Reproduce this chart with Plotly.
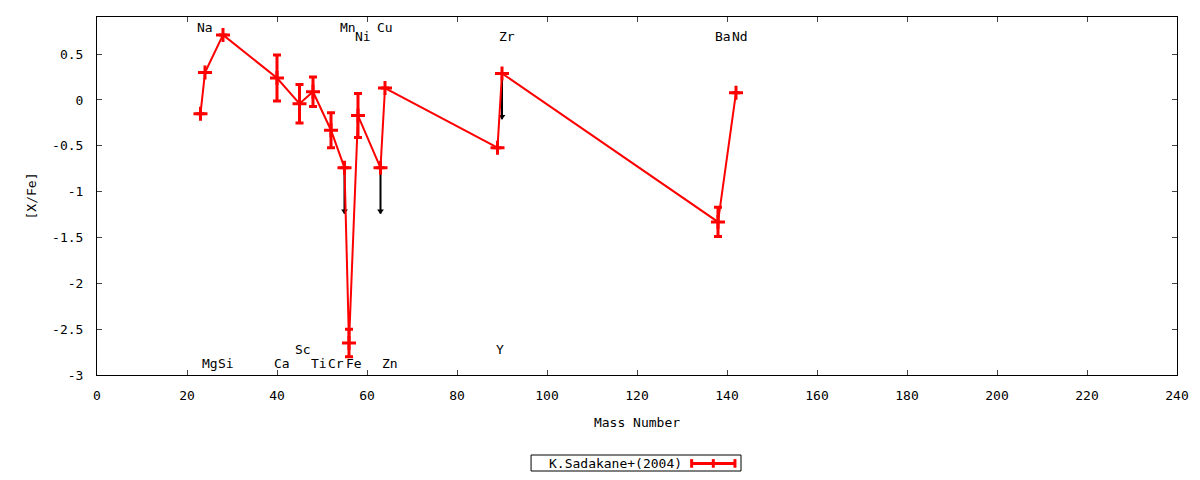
import plotly.graph_objects as go

# abundances: mass number, [X/Fe], error
mass = [23, 24, 28, 40, 45, 48, 52, 55, 56, 58, 63, 64, 89, 90, 138, 142]
xfe = [-0.15, 0.30, 0.71, 0.24, -0.04, 0.09, -0.33, -0.74, -2.65, -0.17, -0.74, 0.13, -0.52, 0.29, -1.33, 0.08]
err = [0, 0, 0, 0.25, 0.21, 0.16, 0.19, 0, 0.15, 0.24, 0, 0, 0, 0, 0.16, 0]

# upper limits (Mn, Cu, Zr)
lim_mass = [55, 63, 90]
lim_val = [-0.74, -0.74, 0.29]
lim_len = 0.5

# element labels
elem = ['Na', 'Mg', 'Si', 'Ca', 'Sc', 'Ti', 'Cr', 'Mn', 'Fe', 'Ni', 'Cu', 'Zn', 'Y', 'Zr', 'Ba', 'Nd']
elem_x = [23.9, 25.0, 28.6, 41.1, 45.8, 49.4, 53.1, 55.8, 57.0, 59.0, 64.1, 65.1, 89.5, 91.0, 139.2, 142.9]
elem_y = [0.79, -2.87, -2.87, -2.87, -2.72, -2.87, -2.87, 0.79, -2.87, 0.69, 0.79, -2.87, -2.72, 0.69, 0.69, 0.69]

xticks = list(range(0, 241, 20))
yticks = [-3, -2.5, -2, -1.5, -1, -0.5, 0, 0.5]
yticktext = ['-3', '-2.5', '-2', '-1.5', '-1', '-0.5', '0', '0.5']

FONT = 'DejaVu Sans Mono'

fig = go.Figure()

# black arrows for the upper limits (under the red line)
lx, ly = [], []
for m, v in zip(lim_mass, lim_val):
    lx += [m, m, None]
    ly += [v, v - lim_len, None]
fig.add_trace(go.Scatter(x=lx, y=ly, mode='lines', line=dict(color='black', width=2),
                         showlegend=False, hoverinfo='skip'))
fig.add_trace(go.Scatter(x=lim_mass, y=[v - lim_len + 0.03 for v in lim_val], mode='markers',
                         marker=dict(symbol='triangle-down', size=6, color='black'),
                         showlegend=False, hoverinfo='skip'))

fig.add_trace(go.Scatter(
    x=mass, y=xfe, mode='lines+markers', name='K.Sadakane+(2004)',
    line=dict(color='red', width=2),
    marker=dict(symbol='cross-thin', size=10, color='red', line=dict(color='red', width=3)),
    error_y=dict(type='data', array=err, color='red', thickness=3, width=4),
    showlegend=False))

for t, x, y in zip(elem, elem_x, elem_y):
    fig.add_annotation(x=x, y=y, text=t, showarrow=False, xanchor='center', yanchor='middle',
                       font=dict(family=FONT, size=13, color='black'))

# gnuplot-style key box: text first, sample to the right
fig.add_shape(type='rect', xref='paper', yref='paper', x0=0.4019, x1=0.5963, y0=-0.2682, y1=-0.2235,
              line=dict(color='black', width=1), fillcolor='white')
fig.add_annotation(xref='paper', yref='paper', x=0.4167, y=-0.2470, text='K.Sadakane+(2004)',
                   showarrow=False, xanchor='left', yanchor='middle',
                   font=dict(family=FONT, size=13, color='black'))
ky = -0.2470
kx0, kx1 = 0.5506, 0.5907
fig.add_shape(type='line', xref='paper', yref='paper', x0=kx0, x1=kx1, y0=ky, y1=ky,
              line=dict(color='red', width=3))
for kx in [kx0, (kx0 + kx1) / 2, kx1]:
    fig.add_shape(type='line', xref='paper', yref='paper', x0=kx, x1=kx, y0=ky - 0.012, y1=ky + 0.012,
                  line=dict(color='red', width=3))

# page body has an 8px margin, so the figure is 16px smaller than the window
fig.update_layout(
    width=1184, height=464,
    margin=dict(l=89, r=15, t=9, b=97, autoexpand=False),
    paper_bgcolor='white', plot_bgcolor='white',
    font=dict(family=FONT, size=13, color='black'),
)
fig.update_xaxes(range=[0, 240], tickvals=xticks, ticks='inside', ticklen=5, showline=True,
                 linecolor='black', linewidth=1, mirror='ticks', showgrid=False, zeroline=False,
                 tickfont=dict(size=13), ticklabelstandoff=8,
                 title=dict(text='Mass Number', standoff=16, font=dict(size=13)))
fig.update_yaxes(range=[-3, 0.905], tickvals=yticks, ticktext=yticktext, ticks='inside', ticklen=5,
                 showline=True, linecolor='black', linewidth=1, mirror='ticks', showgrid=False,
                 zeroline=False, tickfont=dict(size=13), ticklabelstandoff=10,
                 title=dict(text='[X/Fe]', standoff=12, font=dict(size=13)))

fig.write_html("out.html")
